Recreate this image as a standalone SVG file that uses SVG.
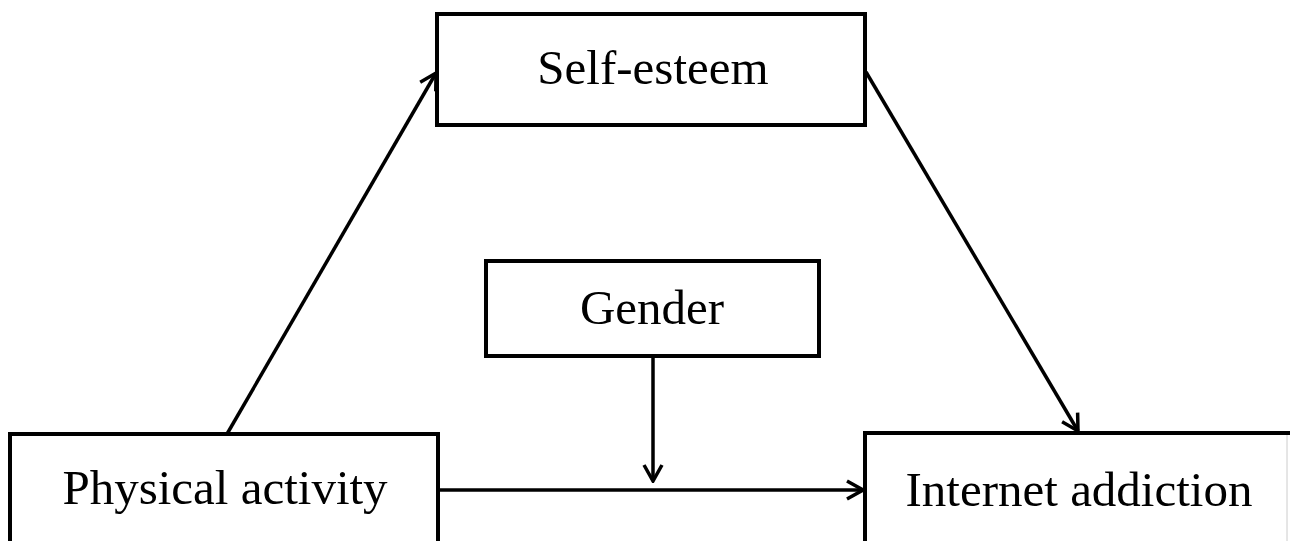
<svg xmlns="http://www.w3.org/2000/svg" width="1290" height="541" viewBox="0 0 1290 541">
<defs>
<style>
.box{fill:#fff;stroke:#000;stroke-width:4}
.lbl{font-family:"Liberation Serif","Times New Roman",serif;font-size:49px;fill:#000;text-anchor:middle}
.conn{stroke:#000;stroke-width:3.5;fill:none}
</style>
<marker id="arr" viewBox="0 0 22 22" refX="20" refY="11" markerWidth="22" markerHeight="22" markerUnits="userSpaceOnUse" orient="auto">
<path d="M4,2 L20,11 L4,20" fill="none" stroke="#000" stroke-width="3.5"/>
</marker>
</defs>
<rect width="1290" height="541" fill="#fff"/>
<g id="connectors">
<line class="conn" x1="227" y1="434" x2="436" y2="73" marker-end="url(#arr)"/>
<line class="conn" x1="866" y1="72" x2="1078" y2="431" marker-end="url(#arr)"/>
<line class="conn" x1="653" y1="356" x2="653" y2="481" marker-end="url(#arr)"/>
<line class="conn" x1="438" y1="490" x2="863" y2="490" marker-end="url(#arr)"/>
</g>
<g id="self-esteem">
<rect class="box" x="437" y="14" width="428" height="111"/>
<text class="lbl" x="653" y="84">Self-esteem</text>
</g>
<g id="gender">
<rect class="box" x="486" y="261" width="333" height="95"/>
<text class="lbl" x="652" y="324">Gender</text>
</g>
<g id="physical-activity">
<rect class="box" x="10" y="434" width="428" height="120"/>
<text class="lbl" x="225" y="504">Physical activity</text>
</g>
<g id="internet-addiction">
<rect class="box" x="865" y="433" width="440" height="120"/>
<line x1="1287" y1="435" x2="1287" y2="541" stroke="#ccc" stroke-width="1"/>
<text class="lbl" x="1079" y="506">Internet addiction</text>
</g>
</svg>
